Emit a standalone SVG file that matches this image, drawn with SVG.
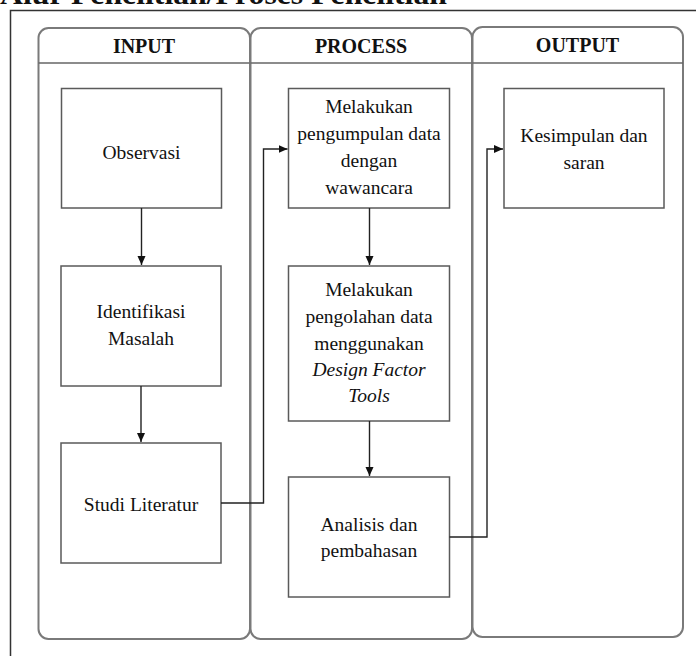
<svg xmlns="http://www.w3.org/2000/svg" width="696" height="656" viewBox="0 0 696 656">
<defs>
<style>
.lane{fill:#fff;stroke:#7a7a7a;stroke-width:2}
.hdr{stroke:#666;stroke-width:1.5}
.ht{font-family:"Liberation Serif",serif;font-weight:bold;font-size:20px;fill:#111;text-anchor:middle}
.box{fill:#fff;stroke:#5a5a5a;stroke-width:1.5}
.t{font-family:"Liberation Serif",serif;font-size:19.5px;fill:#111;text-anchor:middle}
.conn{fill:none;stroke:#222;stroke-width:1.4}
</style>
<marker id="ah" markerWidth="10" markerHeight="10" refX="9" refY="5" orient="auto" markerUnits="userSpaceOnUse">
<path d="M0,1 L9,5 L0,9 Z" fill="#111"/>
</marker>
</defs>
<rect width="696" height="656" fill="#fff"/>
<text x="0" y="3.5" font-family="Liberation Serif,serif" font-weight="bold" font-size="30" fill="#111" textLength="447" lengthAdjust="spacingAndGlyphs">Alur Penelitian/Proses Penelitian</text>
<path d="M10.5,656 V10.5 H696" fill="none" stroke="#333" stroke-width="1.5"/>
<g id="lane-input">
<rect class="lane" x="38.5" y="28" width="211.5" height="611" rx="10"/>
<line class="hdr" x1="38.5" y1="63" x2="250" y2="63"/>
<text class="ht" x="144" y="53">INPUT</text>
</g>
<g id="lane-process">
<rect class="lane" x="250.5" y="28" width="221.5" height="611" rx="10"/>
<line class="hdr" x1="250.5" y1="63" x2="472" y2="63"/>
<text class="ht" x="361" y="53">PROCESS</text>
</g>
<g id="lane-output">
<rect class="lane" x="472.5" y="27" width="210.5" height="610" rx="10"/>
<line class="hdr" x1="472.5" y1="63" x2="683" y2="63"/>
<text class="ht" x="577.5" y="52">OUTPUT</text>
</g>
<g id="observasi">
<rect class="box" x="61.5" y="88.5" width="160" height="119.5"/>
<text class="t" x="141.5" y="159">Observasi</text>
</g>
<g id="identifikasi">
<rect class="box" x="61" y="266" width="160" height="120"/>
<text class="t" x="141" y="318">Identifikasi</text>
<text class="t" x="141" y="345">Masalah</text>
</g>
<g id="studi">
<rect class="box" x="61" y="443" width="160" height="120"/>
<text class="t" x="141" y="511">Studi Literatur</text>
</g>
<g id="pengumpulan">
<rect class="box" x="288.5" y="88.5" width="161" height="119.5"/>
<text class="t" x="369" y="113">Melakukan</text>
<text class="t" x="369" y="140">pengumpulan data</text>
<text class="t" x="369" y="167">dengan</text>
<text class="t" x="369" y="194">wawancara</text>
</g>
<g id="pengolahan">
<rect class="box" x="288.5" y="266" width="161" height="155"/>
<text class="t" x="369" y="296">Melakukan</text>
<text class="t" x="369" y="323">pengolahan data</text>
<text class="t" x="369" y="350">menggunakan</text>
<text class="t" x="369" y="376" font-style="italic">Design Factor</text>
<text class="t" x="369" y="402" font-style="italic">Tools</text>
</g>
<g id="analisis">
<rect class="box" x="288.5" y="477" width="161" height="120"/>
<text class="t" x="369" y="531">Analisis dan</text>
<text class="t" x="369" y="557">pembahasan</text>
</g>
<g id="kesimpulan">
<rect class="box" x="504" y="88.5" width="160" height="119.5"/>
<text class="t" x="584" y="142">Kesimpulan dan</text>
<text class="t" x="584" y="169">saran</text>
</g>
<g id="connectors">
<path class="conn" d="M141.5,208 V265" marker-end="url(#ah)"/>
<path class="conn" d="M141,386 V442" marker-end="url(#ah)"/>
<path class="conn" d="M221,503 H263.5 V149 H287.5" marker-end="url(#ah)"/>
<path class="conn" d="M369.5,208 V265" marker-end="url(#ah)"/>
<path class="conn" d="M369.5,421 V476" marker-end="url(#ah)"/>
<path class="conn" d="M449.5,537 H487 V149 H503" marker-end="url(#ah)"/>
</g>
</svg>
